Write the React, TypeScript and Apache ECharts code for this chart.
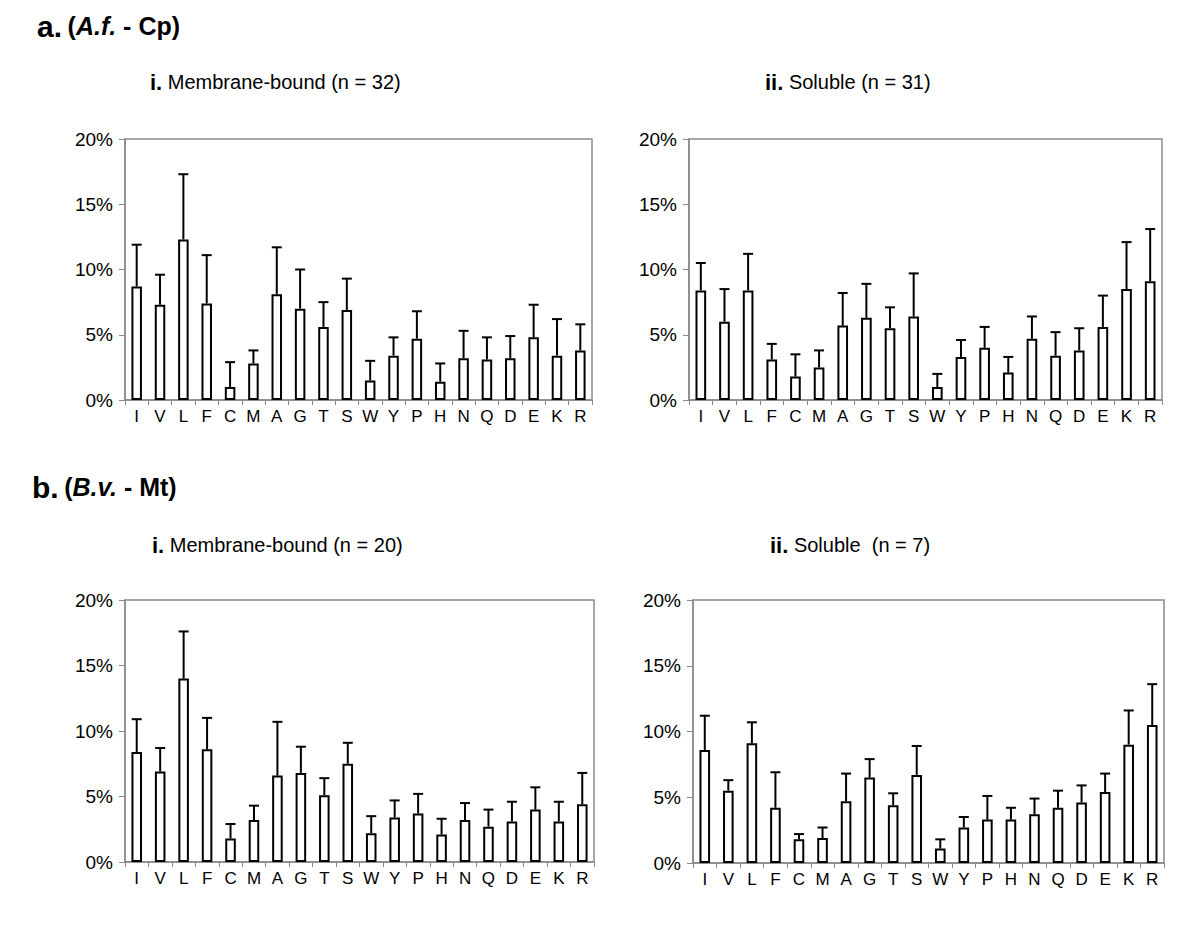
import React, { useEffect, useRef } from "react";
import * as echarts from "echarts";

const aminoAcids = ["I","V","L","F","C","M","A","G","T","S","W","Y","P","H","N","Q","D","E","K","R"];

// a. (A.f. - Cp) i. Membrane-bound (n = 32)
const afCpMembraneMean = [8.7,7.3,12.3,7.4,1.0,2.8,8.1,7.0,5.6,6.9,1.5,3.4,4.7,1.4,3.2,3.1,3.2,4.8,3.4,3.8];
const afCpMembraneSd = [3.2,2.3,5.0,3.7,1.9,1.0,3.6,3.0,1.9,2.4,1.5,1.4,2.1,1.4,2.1,1.7,1.7,2.5,2.8,2.0];
// a. ii. Soluble (n = 31)
const afCpSolubleMean = [8.4,6.0,8.4,3.1,1.8,2.5,5.7,6.3,5.5,6.4,1.0,3.3,4.0,2.1,4.7,3.4,3.8,5.6,8.5,9.1];
const afCpSolubleSd = [2.1,2.5,2.8,1.2,1.7,1.3,2.5,2.6,1.6,3.3,1.0,1.3,1.6,1.2,1.7,1.8,1.7,2.4,3.6,4.0];
// b. (B.v. - Mt) i. Membrane-bound (n = 20)
const bvMtMembraneMean = [8.4,6.9,14.0,8.6,1.8,3.2,6.6,6.8,5.1,7.5,2.2,3.4,3.7,2.1,3.2,2.7,3.1,4.0,3.1,4.4];
const bvMtMembraneSd = [2.5,1.8,3.6,2.4,1.1,1.1,4.1,2.0,1.3,1.6,1.3,1.3,1.5,1.2,1.3,1.3,1.5,1.7,1.5,2.4];
// b. ii. Soluble (n = 7)
const bvMtSolubleMean = [8.6,5.5,9.1,4.2,1.8,1.9,4.7,6.5,4.4,6.7,1.1,2.7,3.3,3.3,3.7,4.2,4.6,5.4,9.0,10.5];
const bvMtSolubleSd = [2.6,0.8,1.6,2.7,0.4,0.8,2.1,1.4,0.9,2.2,0.7,0.8,1.8,0.9,1.2,1.3,1.3,1.4,2.6,3.1];

const yTicks = { min: 0, max: 20, interval: 5 };

const panels = [
  { mean: afCpMembraneMean, sd: afCpMembraneSd, grid: { left: 125, top: 139, width: 467, height: 261 } },
  { mean: afCpSolubleMean, sd: afCpSolubleSd, grid: { left: 689, top: 139, width: 473, height: 261 } },
  { mean: bvMtMembraneMean, sd: bvMtMembraneSd, grid: { left: 125, top: 600, width: 469, height: 262 } },
  { mean: bvMtSolubleMean, sd: bvMtSolubleSd, grid: { left: 693, top: 600, width: 471, height: 263 } },
];

const FONT = "'Liberation Sans', Arial, Helvetica, sans-serif";
const AXIS_GRAY = "#8a8a8a";

export default function App() {
  const ref = useRef<HTMLDivElement>(null);
  useEffect(() => {
    if (!ref.current) return;
    const chart = echarts.init(ref.current, undefined, { renderer: "svg" });

    const grids: any[] = [];
    const xAxes: any[] = [];
    const yAxes: any[] = [];
    const series: any[] = [];

    panels.forEach((p, i) => {
      grids.push({ ...p.grid, show: true, borderColor: AXIS_GRAY, borderWidth: 1.5, backgroundColor: "transparent", containLabel: false });
      xAxes.push({
        type: "category",
        gridIndex: i,
        data: aminoAcids,
        boundaryGap: true,
        axisLine: { lineStyle: { color: AXIS_GRAY, width: 1.5 } },
        axisTick: { show: true, length: 5, alignWithLabel: false, lineStyle: { color: AXIS_GRAY, width: 1 } },
        axisLabel: { color: "#000", fontSize: 17, fontFamily: FONT, margin: 8, interval: 0 },
        splitLine: { show: false },
      });
      yAxes.push({
        type: "value",
        gridIndex: i,
        ...yTicks,
        axisLine: { show: true, lineStyle: { color: AXIS_GRAY, width: 1.5 } },
        axisTick: { show: true, length: 6, lineStyle: { color: AXIS_GRAY, width: 1 } },
        axisLabel: { color: "#000", fontSize: 19, fontFamily: FONT, margin: 12, formatter: "{value}%" },
        splitLine: { show: false },
      });
      series.push({
        type: "bar",
        xAxisIndex: i,
        yAxisIndex: i,
        data: p.mean,
        barWidth: "45%",
        itemStyle: { color: "#fff", borderColor: "#000", borderWidth: 2 },
        silent: true,
      });
      series.push({
        type: "custom",
        xAxisIndex: i,
        yAxisIndex: i,
        data: p.mean.map((m, k) => [k, m, +(m + p.sd[k]).toFixed(2)]),
        encode: { x: 0, y: [1, 2] },
        z: 3,
        silent: true,
        renderItem: (params: any, api: any) => {
          const x = api.value(0);
          const p0 = api.coord([x, api.value(1)]);
          const p1 = api.coord([x, api.value(2)]);
          const half = 5;
          const st = { stroke: "#000", lineWidth: 2 };
          return {
            type: "group",
            children: [
              { type: "line", shape: { x1: p0[0], y1: p0[1], x2: p1[0], y2: p1[1] }, style: st },
              { type: "line", shape: { x1: p1[0] - half, y1: p1[1], x2: p1[0] + half, y2: p1[1] }, style: st },
            ],
          };
        },
      });
    });

    const bigRich = {
      L: { fontSize: 30, fontWeight: "bold", fontFamily: FONT, color: "#000" },
      P: { fontSize: 25, fontWeight: "bold", fontFamily: FONT, color: "#000" },
      I: { fontSize: 25, fontWeight: "bold", fontStyle: "italic", fontFamily: FONT, color: "#000" },
    };
    const subRich = {
      R: { fontSize: 22, fontWeight: "bold", fontFamily: FONT, color: "#000" },
      T: { fontSize: 20, fontWeight: "normal", fontFamily: FONT, color: "#000" },
    };

    const titles = [
      { text: "{L|a.} {P|(}{I|A.f.}{P| - Cp)}", left: 37, top: 11, rich: bigRich },
      { text: "{R|i.} {T|Membrane-bound (n = 32)}", left: 150, top: 71, rich: subRich },
      { text: "{R|ii.} {T|Soluble (n = 31)}", left: 765, top: 71, rich: subRich },
      { text: "{L|b.} {P|(}{I|B.v.}{P| - Mt)}", left: 32, top: 472, rich: bigRich },
      { text: "{R|i.} {T|Membrane-bound (n = 20)}", left: 152, top: 534, rich: subRich },
      { text: "{R|ii.} {T|Soluble  (n = 7)}", left: 770, top: 534, rich: subRich },
    ];

    chart.setOption({
      animation: false,
      backgroundColor: "#fff",
      title: titles.map((t) => ({
        text: t.text,
        left: t.left,
        top: t.top,
        padding: 0,
        textStyle: { fontFamily: FONT, fontWeight: "normal", fontSize: 20, color: "#000", rich: t.rich },
      })),
      grid: grids,
      xAxis: xAxes,
      yAxis: yAxes,
      series,
    });
    return () => chart.dispose();
  }, []);
  return <div ref={ref} style={{ position: "fixed", left: 0, top: 0, width: 1200, height: 927 }} />;
}
